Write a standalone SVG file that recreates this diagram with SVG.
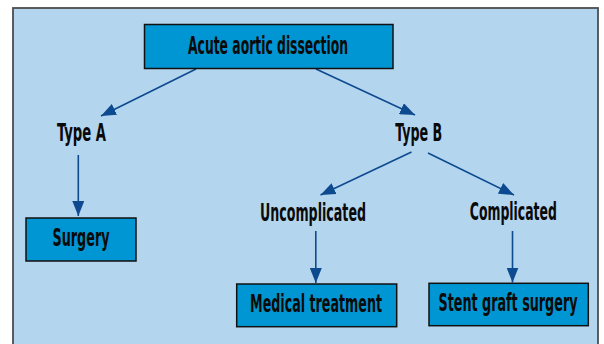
<svg xmlns="http://www.w3.org/2000/svg" width="604" height="344" viewBox="0 0 604 344">
  <style>
    .panel { fill: #b4d5ee; stroke: #4d4d4d; stroke-width: 1.8; }
    .box { fill: #0096d3; stroke: #111; stroke-width: 1.5; }
    .lbl { font-family: "DejaVu Sans Condensed", "Liberation Sans Narrow", "Liberation Sans", sans-serif; font-size: 14.5px; font-weight: bold; fill: #0a0a0a; text-anchor: middle; }
    .conn { stroke: #0d4a8f; stroke-width: 1.6; fill: none; marker-end: url(#ah); }
  </style>
  <defs>
    <marker id="ah" markerUnits="userSpaceOnUse" markerWidth="16" markerHeight="12" refX="15" refY="6" orient="auto">
      <path d="M0,0 L15,6 L0,12 z" fill="#0d4a8f"/>
    </marker>
  </defs>
  <rect class="panel" x="13" y="8" width="585" height="350"/>

  <g id="connectors">
    <line class="conn" x1="196" y1="69" x2="101" y2="116"/>
    <line class="conn" x1="316" y1="69" x2="415" y2="115"/>
    <line class="conn" x1="78.3" y1="155" x2="78.3" y2="216"/>
    <line class="conn" x1="411.5" y1="152" x2="320.5" y2="195"/>
    <line class="conn" x1="428" y1="153" x2="514" y2="195"/>
    <line class="conn" x1="315.8" y1="231" x2="315.8" y2="283"/>
    <line class="conn" x1="512.5" y1="231" x2="512.5" y2="282.5"/>
  </g>

  <g id="acute">
    <rect class="box" x="144.5" y="24.5" width="248.5" height="44"/>
    <text class="lbl" transform="translate(268 54) scale(1 1.68)" textLength="160" lengthAdjust="spacingAndGlyphs">Acute aortic dissection</text>
  </g>
  <g id="typeA">
    <text class="lbl" transform="translate(81.5 141) scale(1 1.68)" textLength="49" lengthAdjust="spacingAndGlyphs">Type A</text>
  </g>
  <g id="typeB">
    <text class="lbl" transform="translate(418.7 141) scale(1 1.68)" textLength="47" lengthAdjust="spacingAndGlyphs">Type B</text>
  </g>
  <g id="surgery">
    <rect class="box" x="26" y="218" width="110" height="43"/>
    <text class="lbl" transform="translate(81 245.5) scale(1 1.68)" textLength="57" lengthAdjust="spacingAndGlyphs">Surgery</text>
  </g>
  <g id="uncomplicated">
    <text class="lbl" transform="translate(313 221) scale(1 1.68)" textLength="106" lengthAdjust="spacingAndGlyphs">Uncomplicated</text>
  </g>
  <g id="complicated">
    <text class="lbl" transform="translate(513.3 220) scale(1 1.68)" textLength="87" lengthAdjust="spacingAndGlyphs">Complicated</text>
  </g>
  <g id="medical">
    <rect class="box" x="236.7" y="284" width="160" height="42.7"/>
    <text class="lbl" transform="translate(316 312.3) scale(1 1.68)" textLength="132" lengthAdjust="spacingAndGlyphs">Medical treatment</text>
  </g>
  <g id="stent">
    <rect class="box" x="429" y="283.3" width="159.3" height="42.4"/>
    <text class="lbl" transform="translate(508 311) scale(1 1.68)" textLength="139" lengthAdjust="spacingAndGlyphs">Stent graft surgery</text>
  </g>
</svg>
